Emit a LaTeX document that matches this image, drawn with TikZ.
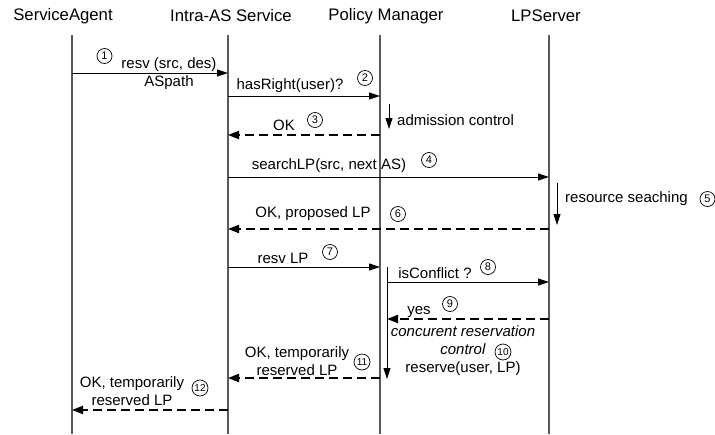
\documentclass[tikz,border=0pt]{standalone}
\usepackage{fontspec}
\setmainfont{Liberation Sans}
\usepackage{tikz}
\usetikzlibrary{positioning}
\usetikzlibrary{arrows.meta}
\usetikzlibrary{calc}

\tikzset{
  life/.style={draw=black!65, line width=1.5pt},
  msg/.style={line width=0.9pt, -{Triangle[length=11pt,width=7pt]}},
  reply/.style={line width=2pt, dash pattern=on 9pt off 5pt, -{Triangle[length=11pt,width=8pt]}},
  head/.style={inner sep=0pt, font=\fontsize{16.7}{19}\selectfont},
  lbl/.style={inner sep=0pt, align=center, font=\fontsize{15}{17.5}\selectfont},
  num/.style={circle, draw, line width=0.7pt, minimum size=15pt, inner sep=0pt, font=\fontsize{11}{11}\selectfont},
  numb/.style={num, minimum size=16pt, font=\fontsize{10}{10}\selectfont},
}

\begin{document}
\begin{tikzpicture}[x=1pt,y=-1pt]
\useasboundingbox (0,0) rectangle (715,434);
% heads
\node[head] (sa)  at (63,16)  {ServiceAgent};
\node[head] (ias) at (231,16) {Intra-AS Service};
\node[head] (pm)  at (386,16) {Policy Manager};
\node[head] (lps) at (546,16) {LPServer};
% life lines
\coordinate (sa-t)  at (72,35);  \coordinate (sa-b)  at (72,434);
\coordinate (ias-t) at (228,35); \coordinate (ias-b) at (228,434);
\coordinate (pm-t)  at (380,35); \coordinate (pm-b)  at (380,434);
\coordinate (lps-t) at (549,35); \coordinate (lps-b) at (549,434);
\foreach \o in {sa,ias,pm,lps}
  \draw[life] (\o-t) -- (\o-b);

% message levels
\coordinate (m1) at (0,73);
\coordinate (m2) at (0,96);
\coordinate (m3) at (0,135);
\coordinate (m4) at (0,177);
\coordinate (m6) at (0,229);
\coordinate (m7) at (0,267);
\coordinate (m8) at (0,282);
\coordinate (m9) at (0,319);
\coordinate (m11) at (0,378);
\coordinate (m12) at (0,410);

% local activities
\coordinate (adm-t) at (389,104); \coordinate (adm-b) at (389,129);
\coordinate (res-t) at (557,183); \coordinate (res-b) at (557,225);
\coordinate (act-t) at (387,267); \coordinate (act-b) at (387,379);

\draw[msg] (sa-t |- m1) -- (ias-t |- m1);
\node[lbl] (l1) at (169,73.5) {resv (src, des)\\ASpath};
\node[num] (n1) at (104.5,56) {1};

\draw[msg] (ias-t |- m2) -- (pm-t |- m2);
\node[lbl] (l2) at (290,86) {hasRight(user)?};
\node[num] (n2) at (365,78) {2};

\draw[msg] (adm-t) -- (adm-b);
\node[lbl, anchor=west] (adm) at (397,120) {admission control};

\draw[reply] (pm-t |- m3) -- (ias-t |- m3);
\node[lbl] (l3) at (284,125) {OK};
\node[num] (n3) at (315,120) {3};

\draw[msg] (ias-t |- m4) -- (lps-t |- m4);
\node[lbl] (l4) at (329,166) {searchLP(src, next AS)};
\node[num] (n4) at (429,160) {4};

\draw[msg] (res-t) -- (res-b);
\node[lbl, anchor=west] (res) at (565,199) {resource seaching};
\node[num] (n5) at (707.5,199) {5};

\draw[reply] (lps-t |- m6) -- (ias-t |- m6);
\node[lbl] (l6) at (313,214) {OK, proposed LP};
\node[num] (n6) at (398,214) {6};

\draw[msg] (ias-t |- m7) -- (pm-t |- m7);
\node[lbl] (l7) at (283,258) {resv LP};
\node[num] (n7) at (330,252) {7};

\draw[msg] (act-t) -- (act-b);

\draw[msg] (act-t |- m8) -- (lps-t |- m8);
\node[lbl] (l8) at (435,273) {isConflict ?};
\node[num] (n8) at (488,267) {8};

\draw[reply] (lps-t |- m9) -- (act-t |- m9);
\node[lbl] (l9) at (419,312) {yes};
\node[num] (n9) at (450,304) {9};

\node[lbl, font=\fontsize{15}{18}\selectfont] (l10) at (463,351)
  {\textit{concurent reservation}\\\textit{control}\\reserve(user, LP)};
\node[numb] (n10) at (503,352) {10};

\draw[reply] (pm-t |- m11) -- (ias-t |- m11);
\node[lbl] (l11) at (297,361) {OK, temporarily\\reserved LP};
\node[numb] (n11) at (362,362) {11};

\draw[reply] (ias-t |- m12) -- (sa-t |- m12);
\node[lbl] (l12) at (132,391) {OK, temporarily\\reserved LP};
\node[numb] (n12) at (200,388) {12};
\end{tikzpicture}
\end{document}
